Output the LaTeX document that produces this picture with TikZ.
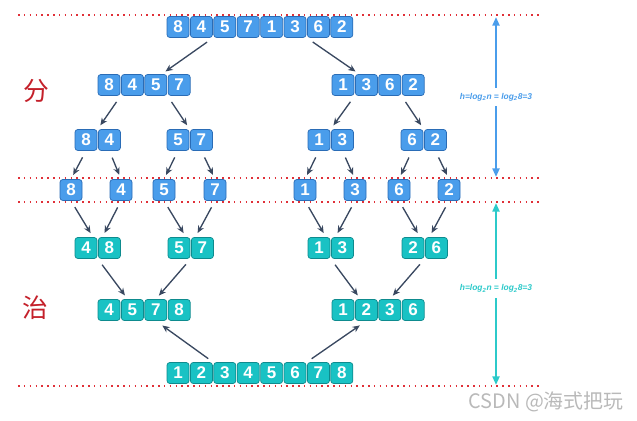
\documentclass[tikz,border=0pt]{standalone}
\usepackage{fontspec}
\setmainfont{Liberation Sans}
\newfontfamily\cjk{Noto Sans CJK SC}
\usetikzlibrary{arrows.meta, calc}
\definecolor{cellblue}{HTML}{4A9DEB}
\definecolor{edgeblue}{HTML}{2A6CB6}
\definecolor{cellteal}{HTML}{19C2C4}
\definecolor{edgeteal}{HTML}{0E8B8E}
\definecolor{linkgray}{HTML}{394860}
\definecolor{guidered}{HTML}{E03038}
\definecolor{heightblue}{HTML}{4A9DEB}
\definecolor{heightteal}{HTML}{2CCACA}
\definecolor{sidered}{HTML}{C4202A}

\begin{document}
\begin{tikzpicture}[
    x=0.3mm, y=-0.3mm,
    cell/.style={rectangle, draw, rounded corners=2.4pt, line width=0.6pt, minimum width=6.6mm, minimum height=6.3mm, inner sep=0pt, text=white, font=\fontsize{14.5}{14.5}\selectfont\bfseries},
    bluecell/.style={cell, fill=cellblue, draw=edgeblue},
    tealcell/.style={cell, fill=cellteal, draw=edgeteal},
    arrow/.style={-{Stealth[length=2.2mm, width=1.9mm]}, line width=0.4mm, draw=linkgray, shorten <=2.2mm, shorten >=1.4mm},
    guide/.style={draw=guidered, line width=0.4mm, dash pattern=on 0.45mm off 1.3mm},
    height/.style={{Triangle[length=2.6mm, width=2.1mm]}-{Triangle[length=2.6mm, width=2.1mm]}, line width=0.6mm},
    hlabel/.style={fill=white, inner xsep=1pt, inner ysep=1.6mm, font=\fontsize{7.2}{7.5}\selectfont\bfseries\itshape},
    side/.style={text=sidered, font=\cjk\fontsize{22}{22}\selectfont}
]
    \useasboundingbox (0,0) rectangle (637,421);

    % red dotted level lines
    \draw[guide] (18,15) -- (540,15);
    \draw[guide] (18,178) -- (540,178);
    \draw[guide] (18,202) -- (540,202);
    \draw[guide] (18,386) -- (540,386);

    \node[side] (divide) at (36,91) {分};
    \node[side] (conquer) at (35,308) {治};

    % divide rows
    \foreach \v [count=\i] in {8,4,5,7,1,3,6,2}
        \node[bluecell] (s\i) at ({178+23.4*(\i-1)},27) {\v};
    \foreach \v [count=\i] in {8,4,5,7}
        \node[bluecell] (L\i) at ({109+23.4*(\i-1)},85) {\v};
    \foreach \v [count=\i] in {1,3,6,2}
        \node[bluecell] (R\i) at ({343+23.4*(\i-1)},85) {\v};
    \foreach \v [count=\i] in {8,4}
        \node[bluecell] (a\i) at ({86+23.4*(\i-1)},140) {\v};
    \foreach \v [count=\i] in {5,7}
        \node[bluecell] (b\i) at ({178+23.4*(\i-1)},140) {\v};
    \foreach \v [count=\i] in {1,3}
        \node[bluecell] (c\i) at ({319+23.4*(\i-1)},140) {\v};
    \foreach \v [count=\i] in {6,2}
        \node[bluecell] (d\i) at ({412+23.4*(\i-1)},140) {\v};
    \foreach \v/\x [count=\i] in {8/71,4/121,5/164,7/215,1/305,3/355,6/399,2/449}
        \node[bluecell] (e\i) at (\x,190) {\v};

    % merge rows
    \foreach \v [count=\i] in {4,8}
        \node[tealcell] (m\i) at ({86+23.4*(\i-1)},248) {\v};
    \foreach \v [count=\i] in {5,7}
        \node[tealcell] (n\i) at ({179+23.4*(\i-1)},248) {\v};
    \foreach \v [count=\i] in {1,3}
        \node[tealcell] (o\i) at ({319+23.4*(\i-1)},248) {\v};
    \foreach \v [count=\i] in {2,6}
        \node[tealcell] (k\i) at ({413+23.4*(\i-1)},248) {\v};
    \foreach \v [count=\i] in {4,5,7,8}
        \node[tealcell] (M\i) at ({109+23.4*(\i-1)},310) {\v};
    \foreach \v [count=\i] in {1,2,3,6}
        \node[tealcell] (N\i) at ({343+23.4*(\i-1)},310) {\v};
    \foreach \v [count=\i] in {1,2,3,4,5,6,7,8}
        \node[tealcell] (f\i) at ({178+23.4*(\i-1)},373) {\v};

    \draw[arrow] ($(s2.south)!.5!(s3.south)$) -- ($(L3.north)!.25!(L4.north)$);
    \draw[arrow] ($(s6.south)!.5!(s7.south)$) -- ($(R1.north)!.7!(R2.north)$);
    \draw[arrow] ($(L1.south)!.5!(L2.south)$) -- ($(a1.north)!.5!(a2.north)$);
    \draw[arrow] ($(L3.south)!.5!(L4.south)$) -- ($(b1.north)!.5!(b2.north)$);
    \draw[arrow] ($(R1.south)!.5!(R2.south)$) -- ($(c1.north)!.5!(c2.north)$);
    \draw[arrow] ($(R3.south)!.5!(R4.south)$) -- ($(d1.north)!.5!(d2.north)$);
    \foreach \p/\c in {a1/e1, a2/e2, b1/e3, b2/e4, c1/e5, c2/e6, d1/e7, d2/e8}
        \draw[arrow] (\p.south) -- (\c.north);
    \foreach \p/\g in {e1/m, e3/n, e5/o, e7/k}
        \draw[arrow] (\p.south) -- ($(\g1.north)!.3!(\g2.north)$);
    \foreach \p/\g in {e2/m, e4/n, e6/o, e8/k}
        \draw[arrow] (\p.south) -- ($(\g1.north)!.7!(\g2.north)$);
    \draw[arrow] ($(m1.south)!.5!(m2.south)$) -- ($(M1.north)!.8!(M2.north)$);
    \draw[arrow] ($(n1.south)!.5!(n2.south)$) -- (M3.north);
    \draw[arrow] ($(o1.south)!.5!(o2.south)$) -- ($(N1.north)!.75!(N2.north)$);
    \draw[arrow] ($(k1.south)!.5!(k2.south)$) -- (N3.north);
    \draw[arrow, shorten <=1.8mm, shorten >=2.4mm] ($(f2.north)!.5!(f3.north)$) -- (M3.south);
    \draw[arrow, shorten <=1.8mm, shorten >=2.4mm] ($(f6.north)!.5!(f7.north)$) -- (N2.south);

    % tree height
    \coordinate (htop) at (496,17);
    \coordinate (hbot) at (496,177);
    \coordinate (gtop) at (496,203);
    \coordinate (gbot) at (496,385);
    \draw[height, heightblue] (htop) -- (hbot)
        node[hlabel, midway, text=heightblue] {h=log\textsubscript{2}n = log\textsubscript{2}8=3};
    \draw[height, heightteal] (gtop) -- (gbot)
        node[hlabel, pos=0.47, text=heightteal] {h=log\textsubscript{2}n = log\textsubscript{2}8=3};

    \node[font=\cjk\fontsize{17}{17}\selectfont, text=gray!55] (mark) at (546,402) {CSDN @海式把玩};
\end{tikzpicture}
\end{document}
